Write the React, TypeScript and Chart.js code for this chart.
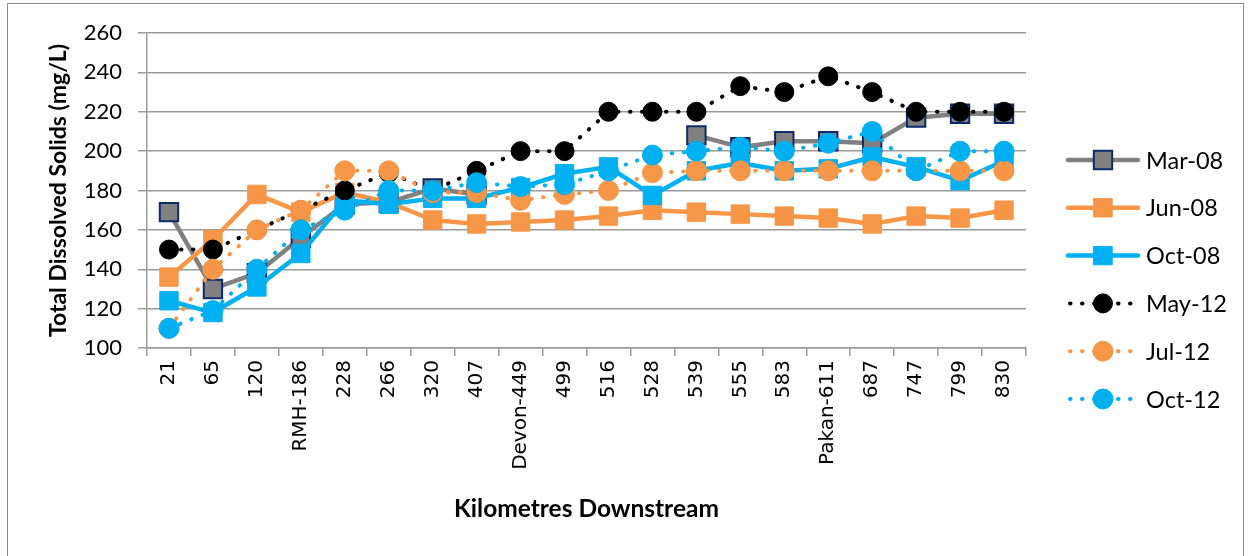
import React, { useEffect, useRef } from 'react';
import { Chart, registerables } from 'chart.js';

Chart.register(...registerables);

// ---- Data ----
const categories = ['21', '65', '120', 'RMH-186', '228', '266', '320', '407', 'Devon-449', '499', '516', '528', '539', '555', '583', 'Pakan-611', '687', '747', '799', '830'];
const seriesNames = ['Mar-08', 'Jun-08', 'Oct-08', 'May-12', 'Jul-12', 'Oct-12'];
const mar08 = [169, 130, 138, 156, 173, 174, 181, 178, null, null, null, null, 208, 202, 205, 205, 204, 217, 219, 219];
const jun08 = [136, 155, 178, 169, 179, 174, 165, 163, 164, 165, 167, 170, 169, 168, 167, 166, 163, 167, 166, 170];
const oct08 = [124, 118, 131, 148, 175, 173, 176, 176, 181.5, 188.5, 192, 177.5, 190, 194, 190, 191, 197, 192, 185, 195];
const may12 = [150, 150, 160, 170, 180, 189, 180, 190, 200, 200, 220, 220, 220, 233, 230, 238, 230, 220, 220, 220];
const jul12 = [110, 140, 160, 170, 190, 190, 179, 179, 175, 178, 180, 189, 190, 190, 190, 190, 190, 190, 190, 190];
const oct12 = [110, 119, 140, 160, 170, 180, 180, 184, 182, 183, 190, 198, 200, 202, 200, 204, 210, 190, 200, 200];
const yTickValues = [100, 120, 140, 160, 180, 200, 220, 240, 260];

const GRAY = '#808080';
const NAVY = '#0E2A6B';
const ORANGE = '#F79646';
const CYAN = '#00B0F0';
const BLACK = '#000000';
const GRID = '#9A9A9A';

const solid = (label: string, data: (number | null)[], color: string, markerBorder: string, markerBorderWidth: number, order: number) => ({
  label,
  data,
  borderColor: color,
  backgroundColor: color,
  borderWidth: 4.5,
  borderCapStyle: 'round' as const,
  borderJoinStyle: 'round' as const,
  pointStyle: 'rect' as const,
  pointRadius: 13,
  pointBackgroundColor: color,
  pointBorderColor: markerBorder,
  pointBorderWidth: markerBorderWidth,
  tension: 0,
  spanGaps: false,
  order,
});

const dotted = (label: string, data: number[], color: string, radius: number, order: number) => ({
  label,
  data,
  borderColor: color,
  backgroundColor: color,
  borderWidth: 4,
  borderCapStyle: 'round' as const,
  borderDash: [0.5, 11.5],
  pointStyle: 'circle' as const,
  pointRadius: radius,
  pointBackgroundColor: color,
  pointBorderColor: color,
  pointBorderWidth: 1,
  tension: 0,
  order,
});

const legendPlugin = {
  id: 'excelLegend',
  afterDraw(chart: any) {
    const { ctx, chartArea } = chart;
    const x0 = chartArea.right + 42;
    const x1 = x0 + 70;
    const xm = (x0 + x1) / 2;
    const tx = x1 + 8;
    const y0 = 160;
    const dy = 47.8;
    chart.data.datasets.forEach((ds: any, i: number) => {
      const y = y0 + i * dy;
      ctx.save();
      ctx.strokeStyle = ds.borderColor;
      ctx.lineWidth = ds.borderWidth;
      ctx.lineCap = ds.borderCapStyle || 'butt';
      ctx.setLineDash(ds.borderDash || []);
      ctx.beginPath();
      ctx.moveTo(ds.borderDash ? x0 + 2 : x0, y);
      ctx.lineTo(x1, y);
      ctx.stroke();
      ctx.setLineDash([]);
      ctx.fillStyle = ds.pointBackgroundColor;
      ctx.strokeStyle = ds.pointBorderColor;
      ctx.lineWidth = ds.pointBorderWidth;
      ctx.beginPath();
      if (ds.pointStyle === 'rect') {
        const s = ds.pointRadius * Math.SQRT1_2;
        ctx.rect(xm - s, y - s, 2 * s, 2 * s);
      } else {
        ctx.arc(xm, y, ds.pointRadius, 0, Math.PI * 2);
      }
      ctx.fill();
      if (ds.pointBorderWidth > 0) ctx.stroke();
      ctx.fillStyle = '#000';
      ctx.font = '23.5px Lato';
      ctx.textAlign = 'left';
      ctx.textBaseline = 'middle';
      ctx.fillText(ds.label, tx, y + 1);
      ctx.restore();
    });
  },
};

export default function App() {
  const canvasRef = useRef<HTMLCanvasElement | null>(null);

  useEffect(() => {
    if (!canvasRef.current) return;
    const chart = new Chart(canvasRef.current, {
      type: 'line',
      data: {
        labels: categories,
        datasets: [
          solid(seriesNames[0], mar08, GRAY, NAVY, 2, 6),
          solid(seriesNames[1], jun08, ORANGE, ORANGE, 1, 5),
          solid(seriesNames[2], oct08, CYAN, CYAN, 1, 4),
          dotted(seriesNames[3], may12, BLACK, 9.5, 3),
          dotted(seriesNames[4], jul12, ORANGE, 10, 2),
          dotted(seriesNames[5], oct12, CYAN, 10, 1),
        ] as any,
      },
      options: {
        responsive: false,
        animation: false,
        devicePixelRatio: 1,
        layout: { padding: { left: 0, right: 226, top: 33, bottom: 20 } },
        plugins: {
          legend: { display: false },
          tooltip: { enabled: false },
        },
        scales: {
          x: {
            type: 'category',
            offset: true,
            grid: { drawOnChartArea: false, drawTicks: true, tickLength: 8, color: GRID, lineWidth: 1.5, offset: true },
            border: { display: true, color: GRID, width: 1.5 },
            ticks: {
              autoSkip: false,
              maxRotation: 90,
              minRotation: 90,
              color: '#000',
              padding: 4,
              font: { family: 'DejaVu Sans', size: 20 },
            },
            title: {
              display: true,
              text: 'Kilometres Downstream',
              color: '#000',
              font: { family: 'Lato', weight: 'bold', size: 24.5 },
              padding: { top: 0, bottom: 12 },
            },
            afterFit: (scale: any) => {
              scale.height = 556 - 348 - 20;
            },
          },
          y: {
            min: 100,
            max: 260,
            afterBuildTicks: (scale: any) => {
              scale.ticks = yTickValues.map((v) => ({ value: v }));
            },
            grid: { color: GRID, lineWidth: 1.5, tickLength: 9, drawTicks: true },
            border: { display: true, color: GRID, width: 1.5 },
            ticks: {
              color: '#000',
              padding: 16,
              font: { family: 'Lato', size: 22 },
            },
            title: {
              display: true,
              text: 'Total Dissolved Solids (mg/L)',
              color: '#000',
              font: { family: 'Lato', weight: 'bold', size: 23 },
              padding: { top: 45, bottom: 0 },
            },
            afterFit: (scale: any) => {
              scale.width = 147;
            },
          },
        },
      } as any,
      plugins: [legendPlugin],
    });
    return () => chart.destroy();
  }, []);

  return (
    <div style={{ position: 'absolute', left: 0, top: 0, width: 1252, height: 556, background: '#fff', overflow: 'hidden' }}>
      <div style={{ position: 'absolute', left: 7, top: 3, width: 1237, height: 570, border: '1.5px solid #8C8C8C', boxSizing: 'border-box' }} />
      <canvas ref={canvasRef} width={1252} height={556} style={{ position: 'absolute', left: 0, top: 0 }} />
    </div>
  );
}
